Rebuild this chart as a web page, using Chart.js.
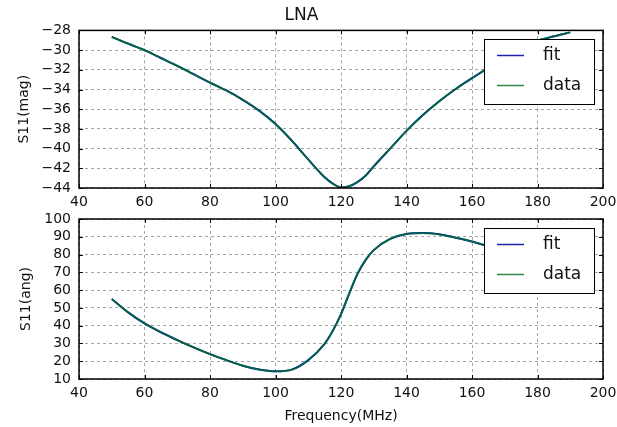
<!DOCTYPE html>
<html>
<head>
<meta charset="utf-8">
<title>LNA</title>
<script src="https://cdn.jsdelivr.net/npm/chart.js@4.4.1/dist/chart.umd.min.js"></script>
<style>
  html, body { margin: 0; padding: 0; background: #fff; }
  #wrap { position: relative; width: 617px; height: 427px; }
  #wrap canvas { position: absolute; left: 0; }
  #magChart { top: 0; }
  #angChart { top: 212px; }
</style>
</head>
<body>
<div id="wrap">
  <canvas id="magChart" width="617" height="212"></canvas>
  <canvas id="angChart" width="617" height="215"></canvas>
</div>
<script>
// Frequency points (MHz), finer around the resonance
const freq = [50, 55, 60, 65, 70, 75, 80, 85, 90, 95, 100, 105, 110, 115, 117.5, 120,
              122.5, 125, 127.5, 130, 135, 140, 145, 150, 155, 160, 165, 170, 175, 180, 185, 190];

// S11 magnitude (dB), measured
const magData = [-28.65, -29.35, -30.0, -30.8, -31.6, -32.45, -33.3, -34.1, -35.05, -36.15,
                 -37.5, -39.2, -41.1, -42.9, -43.55, -43.95,
                 -43.82, -43.4, -42.75, -41.8, -40.0, -38.2, -36.6, -35.2, -33.95, -32.85,
                 -31.8, -30.8, -29.85, -29.05, -28.6, -28.2];
// S11 magnitude, fit (lies on top of the data)
const magFit = magData.slice();

// S11 angle (deg), measured
const angData = [55, 47.5, 41.3, 36.3, 31.9, 27.8, 24, 20.6, 17.5, 15.3,
                 14.3, 15.3, 20.6, 29.8, 37.1, 46.5,
                 58, 69, 76.9, 82.5, 88.8, 91.6, 92.1, 91.4, 89.5, 87.3,
                 84.6, 82, 80, 78.5, 77, 75.5];
const angFit = angData.slice();

// tick labels
const xTicks = [40, 60, 80, 100, 120, 140, 160, 180, 200];
const magTicks = [-44, -42, -40, -38, -36, -34, -32, -30, -28];
const angTicks = [10, 20, 30, 40, 50, 60, 70, 80, 90, 100];

const FONT = '"DejaVu Sans", sans-serif';

function pts(ys) {
    return freq.map((f, i) => ({ x: f, y: ys[i] }));
}

// black frame round the plot with inward ticks on all four sides
const frameTicks = {
    id: 'frameTicks',
    afterDatasetsDraw(chart) {
        const { ctx, chartArea: a, scales } = chart;
        ctx.save();
        ctx.strokeStyle = '#000';
        ctx.lineWidth = 1;
        ctx.beginPath();
        scales.x.ticks.forEach(t => {
            const px = Math.round(scales.x.getPixelForValue(t.value)) + 0.5;
            ctx.moveTo(px, a.bottom); ctx.lineTo(px, a.bottom - 4);
            ctx.moveTo(px, a.top); ctx.lineTo(px, a.top + 4);
        });
        scales.y.ticks.forEach(t => {
            const py = Math.round(scales.y.getPixelForValue(t.value)) + 0.5;
            ctx.moveTo(a.left, py); ctx.lineTo(a.left + 4, py);
            ctx.moveTo(a.right, py); ctx.lineTo(a.right - 4, py);
        });
        ctx.stroke();
        ctx.lineWidth = 1.5;
        ctx.strokeRect(a.left, a.top, a.right - a.left, a.bottom - a.top);
        ctx.restore();
    }
};

// boxed legend in the upper right corner, drawn over the lines
const boxLegend = {
    id: 'boxLegend',
    afterDraw(chart) {
        const { ctx, chartArea: a } = chart;
        const w = 110, h = 65;
        const x = Math.round(a.right - 9 - w), y = Math.round(a.top + 9);
        ctx.save();
        ctx.fillStyle = '#fff';
        ctx.fillRect(x, y, w, h);
        ctx.strokeStyle = '#000';
        ctx.lineWidth = 1;
        ctx.strokeRect(x + 0.5, y + 0.5, w, h);
        ctx.font = '17px ' + FONT;
        ctx.textBaseline = 'middle';
        chart.data.datasets.forEach((ds, i) => {
            const ly = y + 16.5 + i * 30;
            ctx.strokeStyle = ds.legendColor;
            ctx.lineWidth = 1.5;
            ctx.beginPath();
            ctx.moveTo(x + 13, ly);
            ctx.lineTo(x + 40, ly);
            ctx.stroke();
            ctx.fillStyle = '#111';
            ctx.fillText(ds.label, x + 59, ly);
        });
        ctx.restore();
    }
};

function makeChart(id, fit, data, yTicks, yLabel, cfg) {
    const ctx = document.getElementById(id).getContext('2d');
    return new Chart(ctx, {
        type: 'line',
        data: {
            datasets: [
                {
                    label: 'fit',
                    data: pts(fit),
                    borderColor: '#0000ff',
                    legendColor: '#2020b0',
                    borderWidth: 2,
                    pointRadius: 0,
                    cubicInterpolationMode: 'monotone',
                    order: 2,
                },
                {
                    label: 'data',
                    data: pts(data),
                    borderColor: 'rgba(0, 128, 0, 0.8)',
                    legendColor: '#2e8b46',
                    borderWidth: 1.8,
                    pointRadius: 0,
                    cubicInterpolationMode: 'monotone',
                    order: 1,
                },
            ],
        },
        options: {
            responsive: false,
            animation: false,
            events: [],
            layout: { padding: { left: 0, right: 14, top: cfg.padTop, bottom: 0 } },
            plugins: {
                legend: { display: false },
                tooltip: { enabled: false },
                title: cfg.title ? {
                    display: true,
                    text: cfg.title,
                    color: '#111',
                    font: { family: FONT, size: 17, weight: 'normal' },
                    padding: { top: 5, bottom: 5 },
                } : { display: false },
            },
            scales: {
                x: {
                    type: 'linear',
                    min: 40,
                    max: 200,
                    afterBuildTicks: s => { s.ticks = xTicks.map(v => ({ value: v })); },
                    afterFit: s => {
                        s.height = cfg.xHeight;
                        s.paddingLeft = 0;
                        s.paddingRight = 0;
                    },
                    grid: { color: 'rgba(0,0,0,0.35)', lineWidth: 1, drawTicks: false },
                    border: { display: false, dash: [3, 3] },
                    ticks: {
                        color: '#111',
                        padding: 6,
                        autoSkip: false,
                        maxRotation: 0,
                        font: { family: FONT, size: 14 },
                    },
                    title: cfg.xLabel ? {
                        display: true,
                        text: cfg.xLabel,
                        color: '#111',
                        font: { family: FONT, size: 14 },
                        padding: { top: 0, bottom: 2 },
                    } : { display: false },
                },
                y: {
                    min: yTicks[0],
                    max: yTicks[yTicks.length - 1],
                    afterBuildTicks: s => { s.ticks = yTicks.map(v => ({ value: v })); },
                    afterFit: s => {
                        s.width = 79;
                        s.paddingTop = 0;
                        s.paddingBottom = 0;
                    },
                    grid: { color: 'rgba(0,0,0,0.35)', lineWidth: 1, drawTicks: false },
                    border: { display: false, dash: [3, 3] },
                    ticks: {
                        color: '#111',
                        padding: 8,
                        autoSkip: false,
                        font: { family: FONT, size: 14 },
                        callback: v => String(v).replace('-', '\u2212'),
                    },
                    title: {
                        display: true,
                        text: yLabel,
                        color: '#111',
                        font: { family: FONT, size: 14 },
                        padding: { top: cfg.yTitlePad, bottom: 0 },
                    },
                },
            },
        },
        plugins: [frameTicks, boxLegend],
    });
}

makeChart('magChart', magFit, magData, magTicks, 'S11(mag)',
    { title: 'LNA', padTop: 0, xHeight: 24, yTitlePad: 15.5 });
makeChart('angChart', angFit, angData, angTicks, 'S11(ang)',
    { padTop: 7, xHeight: 48, xLabel: 'Frequency(MHz)', yTitlePad: 18 });
</script>
</body>
</html>
